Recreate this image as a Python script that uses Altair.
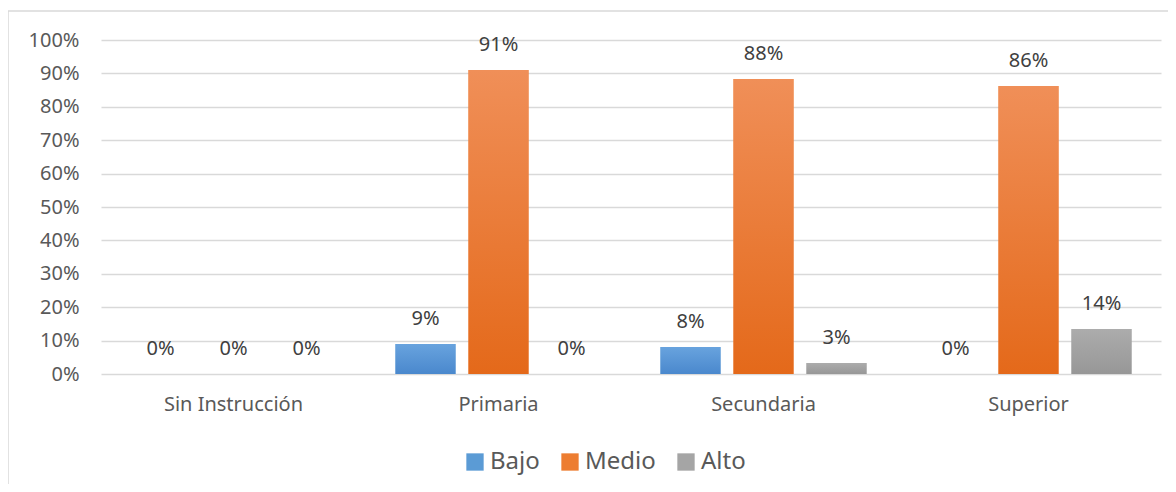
import altair as alt
import pandas as pd

categories = ["Sin Instrucción", "Primaria", "Secundaria", "Superior"]
series = ["Bajo", "Medio", "Alto"]
bajo = [0.0, 0.09, 0.081, 0.0]
medio = [0.0, 0.91, 0.883, 0.862]
alto = [0.0, 0.0, 0.033, 0.135]
label_bajo = ["0%", "9%", "8%", "0%"]
label_medio = ["0%", "91%", "88%", "86%"]
label_alto = ["0%", "0%", "3%", "14%"]
y_ticks = [0.0, 0.1, 0.2, 0.3, 0.4, 0.5, 0.6, 0.7, 0.8, 0.9, 1.0]

solid = ["#5B9BD5", "#ED7D31", "#A5A5A5"]
grad_top = ["#68a3de", "#f08f58", "#acacac"]
grad_bot = ["#4a88cd", "#e4691a", "#979797"]

rows = []
for s, vals, labs in [("Bajo", bajo, label_bajo), ("Medio", medio, label_medio), ("Alto", alto, label_alto)]:
    for c, v, l in zip(categories, vals, labs):
        rows.append({"cat": c, "serie": s, "val": v, "lab": l})
df = pd.DataFrame(rows)

FONT = "Noto Sans"
W, H = 1060, 334

x_enc = alt.X("cat:N", sort=categories, title=None,
              scale=alt.Scale(paddingInner=0, paddingOuter=0),
              axis=alt.Axis(labelFont=FONT, labelFontSize=20, labelColor="#595959",
                            labelPadding=20, ticks=False, domain=False, grid=False,
                            labelAngle=0))
xo_enc = alt.XOffset("serie:N", sort=series,
                     scale=alt.Scale(domain=series, paddingInner=0.178, paddingOuter=0.404))
y_enc = alt.Y("val:Q", title=None,
              scale=alt.Scale(domain=[0, 1], nice=False),
              axis=alt.Axis(format=".0%", values=y_ticks, tickCount=11,
                            labelFont=FONT, labelFontSize=20, labelColor="#595959",
                            labelPadding=22, ticks=False, domain=False,
                            labelOverlap=False,
                            grid=True, gridColor="#d9d9d9", gridWidth=1.3))

base = alt.Chart(df)

bars = base.mark_bar(size=60).encode(
    x=x_enc, xOffset=xo_enc, y=y_enc,
    color=alt.Color("serie:N", sort=series,
                    scale=alt.Scale(domain=series, range=solid),
                    legend=alt.Legend(title=None, orient="none", direction="horizontal",
                                      legendX=362, legendY=410,
                                      symbolType="square", symbolSize=300,
                                      symbolStrokeWidth=0, labelFont=FONT,
                                      labelFontSize=24, labelColor="#595959",
                                      columnPadding=18, symbolOffset=0,
                                      labelOffset=3)),
)

grad_layers = []
for i, s in enumerate(series):
    g = alt.Gradient(gradient="linear", x1=0, y1=0, x2=0, y2=1,
                     stops=[alt.GradientStop(color=grad_top[i], offset=0),
                            alt.GradientStop(color=grad_bot[i], offset=1)])
    grad_layers.append(
        base.transform_filter(alt.datum.serie == s).mark_bar(size=60, color=g).encode(
            x=x_enc, xOffset=xo_enc, y=y_enc)
    )

labels = base.mark_text(font=FONT, fontSize=20, color="#404040", dy=-25,
                        baseline="middle").encode(
    x=x_enc, xOffset=xo_enc, y=y_enc, text="lab:N")

frame_left = alt.Chart(pd.DataFrame({"a": [0]})).mark_rule(color="#d9d9d9", strokeWidth=1.5).encode(
    x=alt.value(-93), y=alt.value(-29), y2=alt.value(480))
frame_top = alt.Chart(pd.DataFrame({"a": [0]})).mark_rule(color="#d9d9d9", strokeWidth=1.5).encode(
    x=alt.value(-93), x2=alt.value(1200), y=alt.value(-29))

chart = alt.layer(frame_left, frame_top, bars, *grad_layers, labels).properties(
    width=W, height=H,
    autosize=alt.AutoSizeParams(type="none"),
    padding={"left": 93, "top": 32, "right": 7, "bottom": 110},
    background="white",
).configure_view(stroke=None)

chart.save("out.html", embed_options={"renderer": "svg", "actions": False})
